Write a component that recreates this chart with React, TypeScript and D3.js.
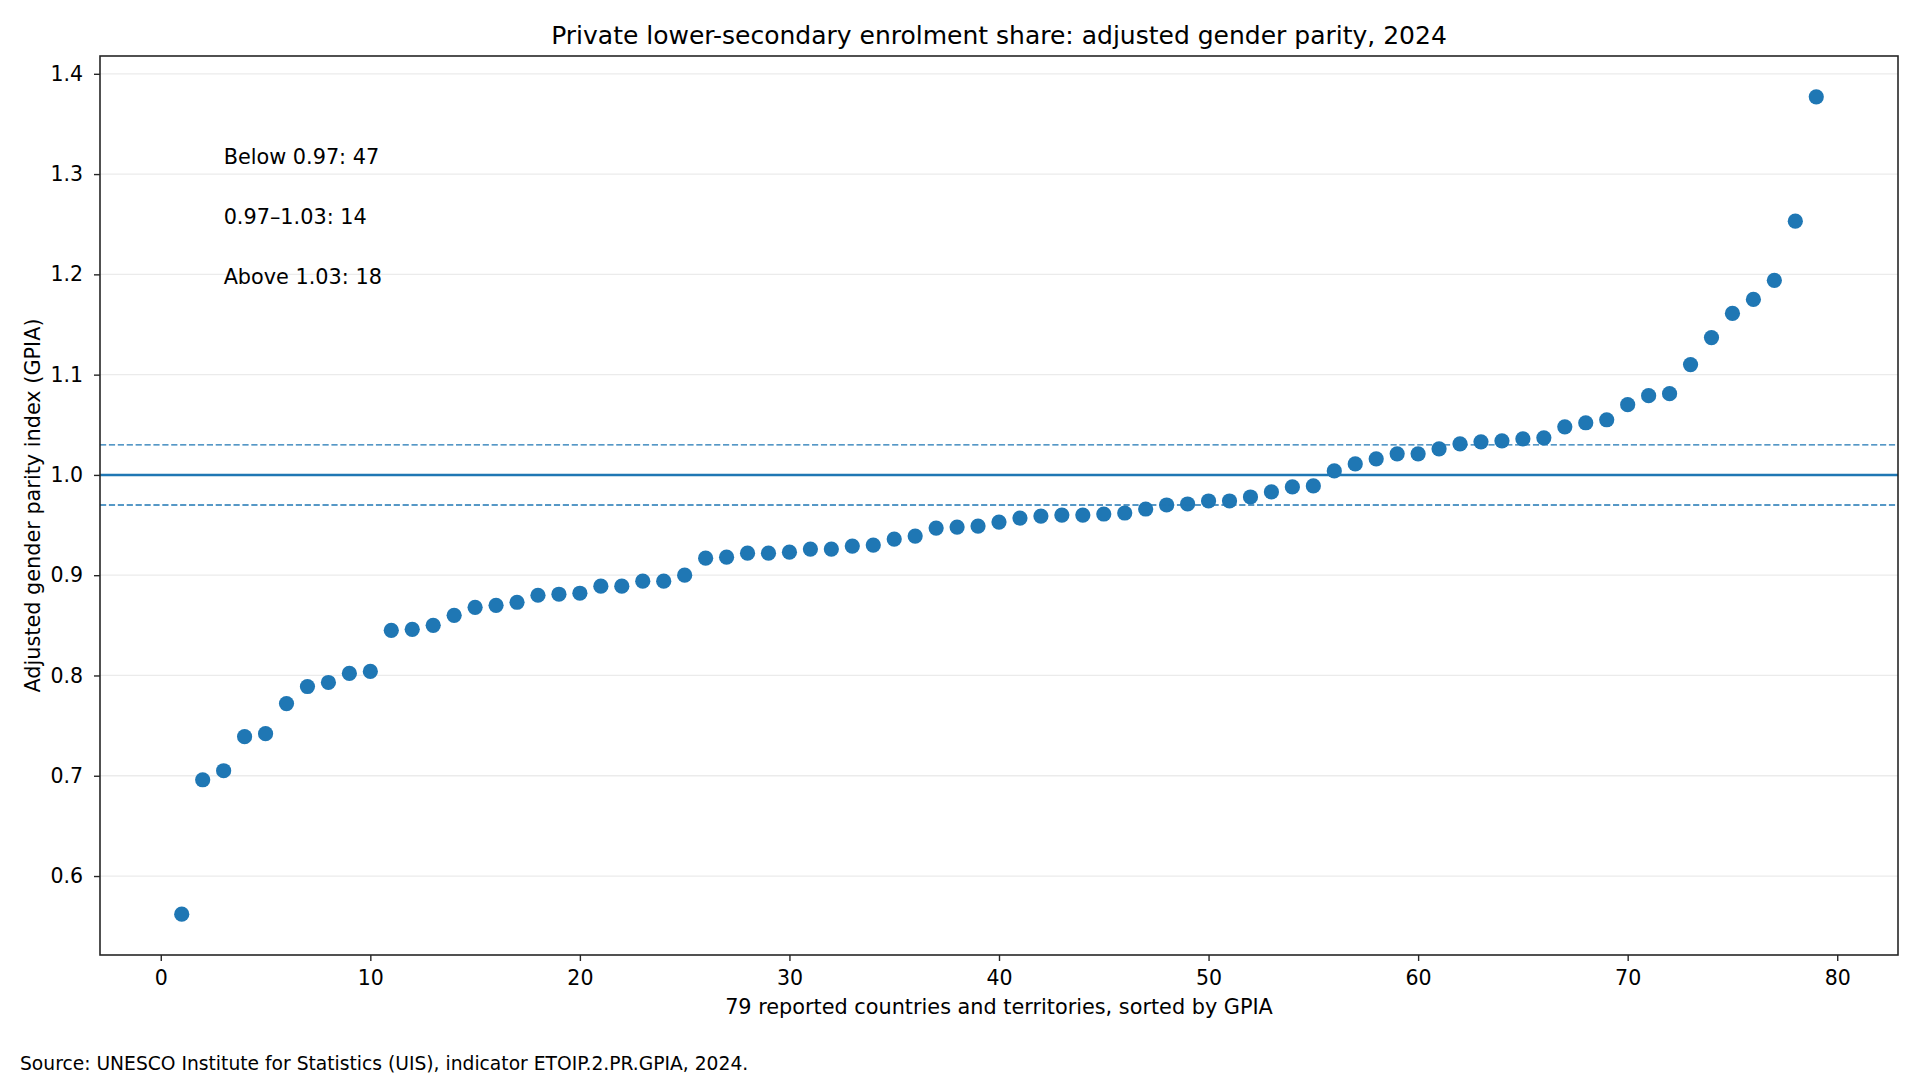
import React, { useEffect, useRef } from 'react';
import * as d3 from 'd3';

// GPIA values, sorted ascending (one per reported country/territory)
const gpia = [
  0.562, 0.696, 0.705, 0.739, 0.742, 0.772, 0.789, 0.793, 0.802, 0.804,
  0.845, 0.846, 0.850, 0.860, 0.868, 0.870, 0.873, 0.880, 0.881, 0.882,
  0.889, 0.889, 0.894, 0.894, 0.900, 0.917, 0.918, 0.922, 0.922, 0.923,
  0.926, 0.926, 0.929, 0.930, 0.936, 0.939, 0.947, 0.948, 0.949, 0.953,
  0.957, 0.959, 0.960, 0.960, 0.961, 0.962, 0.966, 0.970, 0.971, 0.974,
  0.974, 0.978, 0.983, 0.988, 0.989, 1.004, 1.011, 1.016, 1.021, 1.021,
  1.026, 1.031, 1.033, 1.034, 1.036, 1.037, 1.048, 1.052, 1.055, 1.070,
  1.079, 1.081, 1.110, 1.137, 1.161, 1.175, 1.194, 1.253, 1.377,
];

const xTicks = [0, 10, 20, 30, 40, 50, 60, 70, 80];
const yTicks = [0.6, 0.7, 0.8, 0.9, 1.0, 1.1, 1.2, 1.3, 1.4];

const parityLine = 1.0;
const bandLines = [0.97, 1.03];

const noteLabels = ['Below 0.97: 47', '0.97–1.03: 14', 'Above 1.03: 18'];
const noteX = 3;
const noteY = [1.31, 1.25, 1.19];

const title = 'Private lower-secondary enrolment share: adjusted gender parity, 2024';
const xLabel = '79 reported countries and territories, sorted by GPIA';
const yLabel = 'Adjusted gender parity index (GPIA)';
const source = 'Source: UNESCO Institute for Statistics (UIS), indicator ETOIP.2.PR.GPIA, 2024.';

export default function App() {
  const ref = useRef<SVGSVGElement>(null);

  useEffect(() => {
    if (!ref.current) return;
    const svg = d3.select(ref.current);
    svg.selectAll('*').remove();

    const W = 1920, H = 1080;
    const margin = { top: 56, right: 22, bottom: 125, left: 100 };
    const iw = W - margin.left - margin.right;
    const ih = H - margin.top - margin.bottom;
    const blue = '#1f77b4';
    const font = 'DejaVu Sans, sans-serif';

    const data = gpia.map((v, i) => ({ rank: i + 1, v }));

    // matplotlib-like 5% margins
    const [x0, x1] = d3.extent(data, d => d.rank) as [number, number];
    const [y0, y1] = d3.extent(data, d => d.v) as [number, number];
    const px = (x1 - x0) * 0.05, py = (y1 - y0) * 0.05;

    const x = d3.scaleLinear().domain([x0 - px, x1 + px]).range([0, iw]);
    const y = d3.scaleLinear().domain([y0 - py, y1 + py]).range([ih, 0]);

    svg.append('rect').attr('width', W).attr('height', H).attr('fill', '#fff');

    const g = svg.append('g').attr('transform', `translate(${margin.left},${margin.top})`);

    // grid
    g.append('g')
      .selectAll('line')
      .data(yTicks)
      .join('line')
      .attr('x1', 0).attr('x2', iw)
      .attr('y1', d => y(d)).attr('y2', d => y(d))
      .attr('stroke', '#ebebeb')
      .attr('stroke-width', 1.3);

    // points
    g.append('g')
      .selectAll('circle')
      .data(data)
      .join('circle')
      .attr('cx', d => x(d.rank))
      .attr('cy', d => y(d.v))
      .attr('r', 7.6)
      .attr('fill', blue);

    // parity reference lines
    g.append('line')
      .attr('x1', 0).attr('x2', iw)
      .attr('y1', y(parityLine)).attr('y2', y(parityLine))
      .attr('stroke', blue).attr('stroke-width', 2.5);

    g.append('g')
      .selectAll('line')
      .data(bandLines)
      .join('line')
      .attr('x1', 0).attr('x2', iw)
      .attr('y1', d => y(d)).attr('y2', d => y(d))
      .attr('stroke', blue)
      .attr('stroke-width', 1.4)
      .attr('stroke-dasharray', '6.2,2.7');

    // axes
    const xAxis = g.append('g')
      .attr('transform', `translate(0,${ih})`)
      .call(d3.axisBottom(x).tickValues(xTicks).tickFormat(d3.format('d')).tickSize(6).tickPadding(9).tickSizeOuter(0));
    const yAxis = g.append('g')
      .call(d3.axisLeft(y).tickValues(yTicks).tickFormat(d3.format('.1f')).tickSize(6).tickPadding(11).tickSizeOuter(0));

    [xAxis, yAxis].forEach(a => {
      a.select('.domain').remove();
      a.selectAll('.tick line').attr('stroke', '#262626').attr('stroke-width', 1.4);
      a.selectAll('.tick text')
        .attr('fill', '#000')
        .style('font-family', font)
        .style('font-size', '20.5px');
    });

    // frame
    g.append('rect')
      .attr('width', iw).attr('height', ih)
      .attr('fill', 'none')
      .attr('stroke', '#262626')
      .attr('stroke-width', 1.6);

    // notes
    g.append('g')
      .selectAll('text')
      .data(noteLabels)
      .join('text')
      .attr('x', x(noteX))
      .attr('y', (_, i) => y(noteY[i]))
      .attr('fill', '#000')
      .style('font-family', font)
      .style('font-size', '20.8px')
      .text(d => d);

    // titles
    svg.append('text')
      .attr('x', margin.left + iw / 2).attr('y', 44)
      .attr('text-anchor', 'middle')
      .style('font-family', font).style('font-size', '25px')
      .text(title);

    svg.append('text')
      .attr('x', margin.left + iw / 2).attr('y', 1014)
      .attr('text-anchor', 'middle')
      .style('font-family', font).style('font-size', '20.8px')
      .text(xLabel);

    svg.append('text')
      .attr('transform', `translate(39.5,${margin.top + ih / 2}) rotate(-90)`)
      .attr('text-anchor', 'middle')
      .style('font-family', font).style('font-size', '20.8px')
      .text(yLabel);

    svg.append('text')
      .attr('x', 20).attr('y', 1070)
      .style('font-family', font).style('font-size', '18.7px')
      .text(source);
  }, []);

  return (
    <div style={{ position: 'fixed', left: 0, top: 0, width: 1920, height: 1080 }}>
      <svg ref={ref} width={1920} height={1080} />
    </div>
  );
}
